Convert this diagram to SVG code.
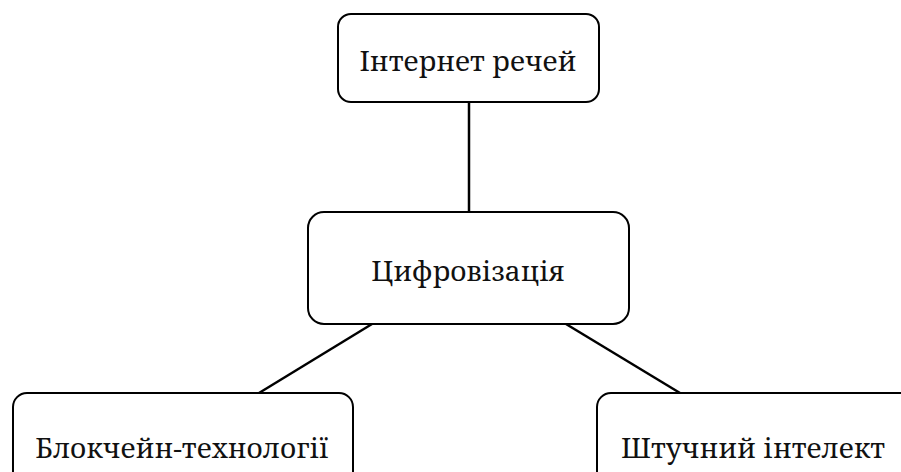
<svg xmlns="http://www.w3.org/2000/svg" width="901" height="472" viewBox="0 0 901 472">
<style>
.box{fill:#fff;stroke:#000;stroke-width:2}
.edge{stroke:#000;stroke-width:2.5;fill:none}
.lbl{font-family:'Noto Serif','DejaVu Serif',serif;font-size:28px;text-anchor:middle;fill:#111}
</style>
<rect width="901" height="472" fill="#fff"/>
<g id="connectors">
<line class="edge" x1="469" y1="102" x2="469" y2="212"/>
<line class="edge" x1="372" y1="324" x2="259" y2="393"/>
<line class="edge" x1="566" y1="324" x2="680" y2="393"/>
</g>
<g id="internet">
<rect class="box" x="338" y="14" width="261" height="88" rx="13"/>
<text class="lbl" x="468" y="71">Інтернет речей</text>
</g>
<g id="digital">
<rect class="box" x="308" y="212" width="321" height="112" rx="16"/>
<text class="lbl" x="468" y="281">Цифровізація</text>
</g>
<g id="blockchain">
<rect class="box" x="13" y="393" width="340" height="100" rx="14"/>
<text class="lbl" x="182" y="458">Блокчейн-технології</text>
</g>
<g id="ai">
<rect class="box" x="597" y="393" width="330" height="100" rx="14"/>
<text class="lbl" x="753" y="458">Штучний інтелект</text>
</g>
</svg>
